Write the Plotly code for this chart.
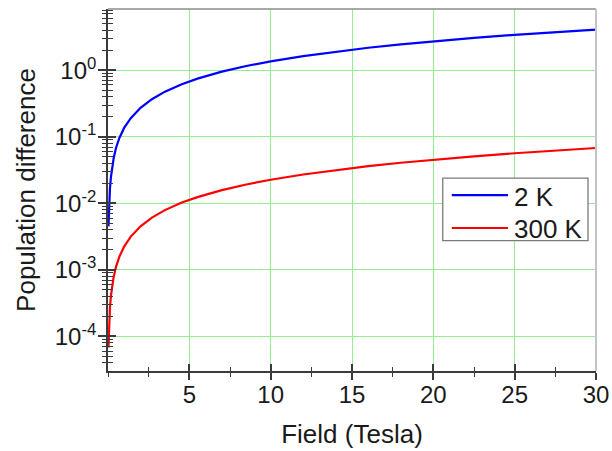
import plotly.graph_objects as go

# Magnetic field (Tesla)
field = [0.03, 0.05, 0.08, 0.12, 0.18, 0.25, 0.35, 0.5, 0.7, 1.0, 1.4, 2.0, 2.7,
         3.5, 4.5, 5.5, 7.0, 8.5, 10.0, 12.0, 14.0, 16.0, 18.0, 20.0, 22.5, 25.0,
         27.5, 30.0]

# Population difference at 2 K
diff_2k = [0.0045, 0.0072, 0.0112, 0.0166, 0.0248, 0.0345, 0.048, 0.069, 0.096,
           0.137, 0.19, 0.272, 0.367, 0.476, 0.612, 0.748, 0.952, 1.156, 1.36,
           1.632, 1.904, 2.176, 2.448, 2.72, 3.06, 3.4, 3.74, 4.08]

# Population difference at 300 K
diff_300k = [6.8e-5, 1.13e-4, 1.81e-4, 2.71e-4, 4.07e-4, 5.65e-4, 7.91e-4, 0.00113,
             0.00158, 0.00226, 0.00316, 0.00452, 0.0061, 0.0079, 0.0102, 0.0124,
             0.0158, 0.0192, 0.0226, 0.0271, 0.0316, 0.0362, 0.0407, 0.0452,
             0.0509, 0.0565, 0.0622, 0.0678]

series_names = ["2 K", "300 K"]
series_colors = ["#0000ff", "#ff0000"]

x_ticks = [5, 10, 15, 20, 25, 30]
x_ticktext = ["5", "10", "15", "20", "25", "30"]
y_ticks = [1e-4, 1e-3, 1e-2, 1e-1, 1]
y_ticktext = ["10<sup>-4</sup>", "10<sup>-3</sup>", "10<sup>-2</sup>",
              "10<sup>-1</sup>", "10<sup>0</sup>"]

FONT = "Arial, Liberation Sans, sans-serif"
FS = 26      # titles and legend
TFS = 24     # tick labels
TXT = "#1a1a1a"
AXC = "#3a3a3a"
GRID = "#93ee93"
X_RANGE = [0, 30]
Y_RANGE = [-4.52, 0.92]

fig = go.Figure()
for name, color, ys in zip(series_names, series_colors, [diff_2k, diff_300k]):
    fig.add_trace(go.Scatter(x=field, y=ys, mode="lines", name=name,
                             showlegend=False,
                             line=dict(color=color, width=2.2)))
# empty trace that carries the overlaid axes (inner halves of the ticks)
fig.add_trace(go.Scatter(x=[], y=[], xaxis="x2", yaxis="y2", showlegend=False,
                         hoverinfo="skip"))

# legend box drawn in paper coordinates: frame, line samples, labels
legend_shapes = [
    dict(type="rect", xref="paper", yref="paper", x0=0.686, x1=0.9836,
         y0=0.36, y1=0.533, fillcolor="white",
         line=dict(color="#7a7a7a", width=1.3), layer="above"),
]
legend_annots = []
for i, (name, color) in enumerate(zip(series_names, series_colors)):
    yc = 0.486 - i * 0.091
    legend_shapes.append(dict(type="line", xref="paper", yref="paper",
                              x0=0.7045, x1=0.8198, y0=yc, y1=yc,
                              line=dict(color=color, width=2.2), layer="above"))
    legend_annots.append(dict(text=name, xref="paper", yref="paper", x=0.827,
                              y=yc - 0.004, xanchor="left", yanchor="middle",
                              showarrow=False,
                              font=dict(family=FONT, size=FS, color=TXT)))

fig.update_layout(
    width=612, height=451,
    margin=dict(l=107.5, r=16, t=9, b=79.5, autoexpand=False),
    paper_bgcolor="white", plot_bgcolor="white",
    font=dict(family=FONT, color=TXT, size=FS),
    showlegend=False,
    xaxis=dict(
        range=X_RANGE, tickmode="array", tickvals=x_ticks, ticktext=x_ticktext,
        ticks="outside", ticklen=7, tickwidth=1.6, tickcolor=AXC,
        showline=True, linecolor=AXC, linewidth=1.6, automargin=False,
        showgrid=True, gridcolor=GRID, gridwidth=1.2, zeroline=False,
        tickfont=dict(size=TFS, family=FONT, color=TXT), ticklabelstandoff=-6,
        minor=dict(dtick=2.5, tick0=0, ticks="outside", ticklen=4,
                   tickwidth=1.3, tickcolor=AXC, showgrid=False),
        title=dict(text="Field (Tesla)", font=dict(size=FS, family=FONT, color=TXT),
                   standoff=18),
    ),
    yaxis=dict(
        type="log", range=Y_RANGE, tickmode="array", tickvals=y_ticks,
        ticktext=y_ticktext, automargin=False,
        ticks="outside", ticklen=8, tickwidth=1.6, tickcolor=AXC,
        showline=True, linecolor=AXC, linewidth=1.6,
        showgrid=True, gridcolor=GRID, gridwidth=1.2, zeroline=False,
        tickfont=dict(size=TFS, family=FONT, color=TXT), ticklabelstandoff=-3,
        minor=dict(dtick="D1", ticks="outside", ticklen=4.5, tickwidth=1.3,
                   tickcolor=AXC, showgrid=False),
        title=dict(text="Population difference",
                   font=dict(size=FS, family=FONT, color=TXT), standoff=12),
    ),
    xaxis2=dict(
        overlaying="x", anchor="y2", side="bottom", range=X_RANGE,
        tickmode="array", tickvals=x_ticks, showticklabels=False,
        ticks="inside", ticklen=7, tickwidth=1.6, tickcolor=AXC,
        showline=False, showgrid=False, zeroline=False, automargin=False,
        minor=dict(dtick=2.5, tick0=0, ticks="inside", ticklen=4,
                   tickwidth=1.3, tickcolor=AXC, showgrid=False),
    ),
    yaxis2=dict(
        overlaying="y", anchor="x2", side="left", type="log", range=Y_RANGE,
        tickmode="array", tickvals=y_ticks, showticklabels=False,
        ticks="inside", ticklen=8, tickwidth=1.6, tickcolor=AXC,
        showline=False, showgrid=False, zeroline=False, automargin=False,
        minor=dict(dtick="D1", ticks="inside", ticklen=4.5, tickwidth=1.3,
                   tickcolor=AXC, showgrid=False),
    ),
    shapes=[
        # top and right frame lines
        dict(type="line", xref="paper", yref="paper", x0=0, x1=1, y0=1, y1=1,
             line=dict(color="#8c8c8c", width=1.6)),
        dict(type="line", xref="paper", yref="paper", x0=1, x1=1, y0=0, y1=1,
             line=dict(color="#c4c4c4", width=2)),
    ] + legend_shapes,
    annotations=legend_annots,
)

fig.write_html("out.html")
